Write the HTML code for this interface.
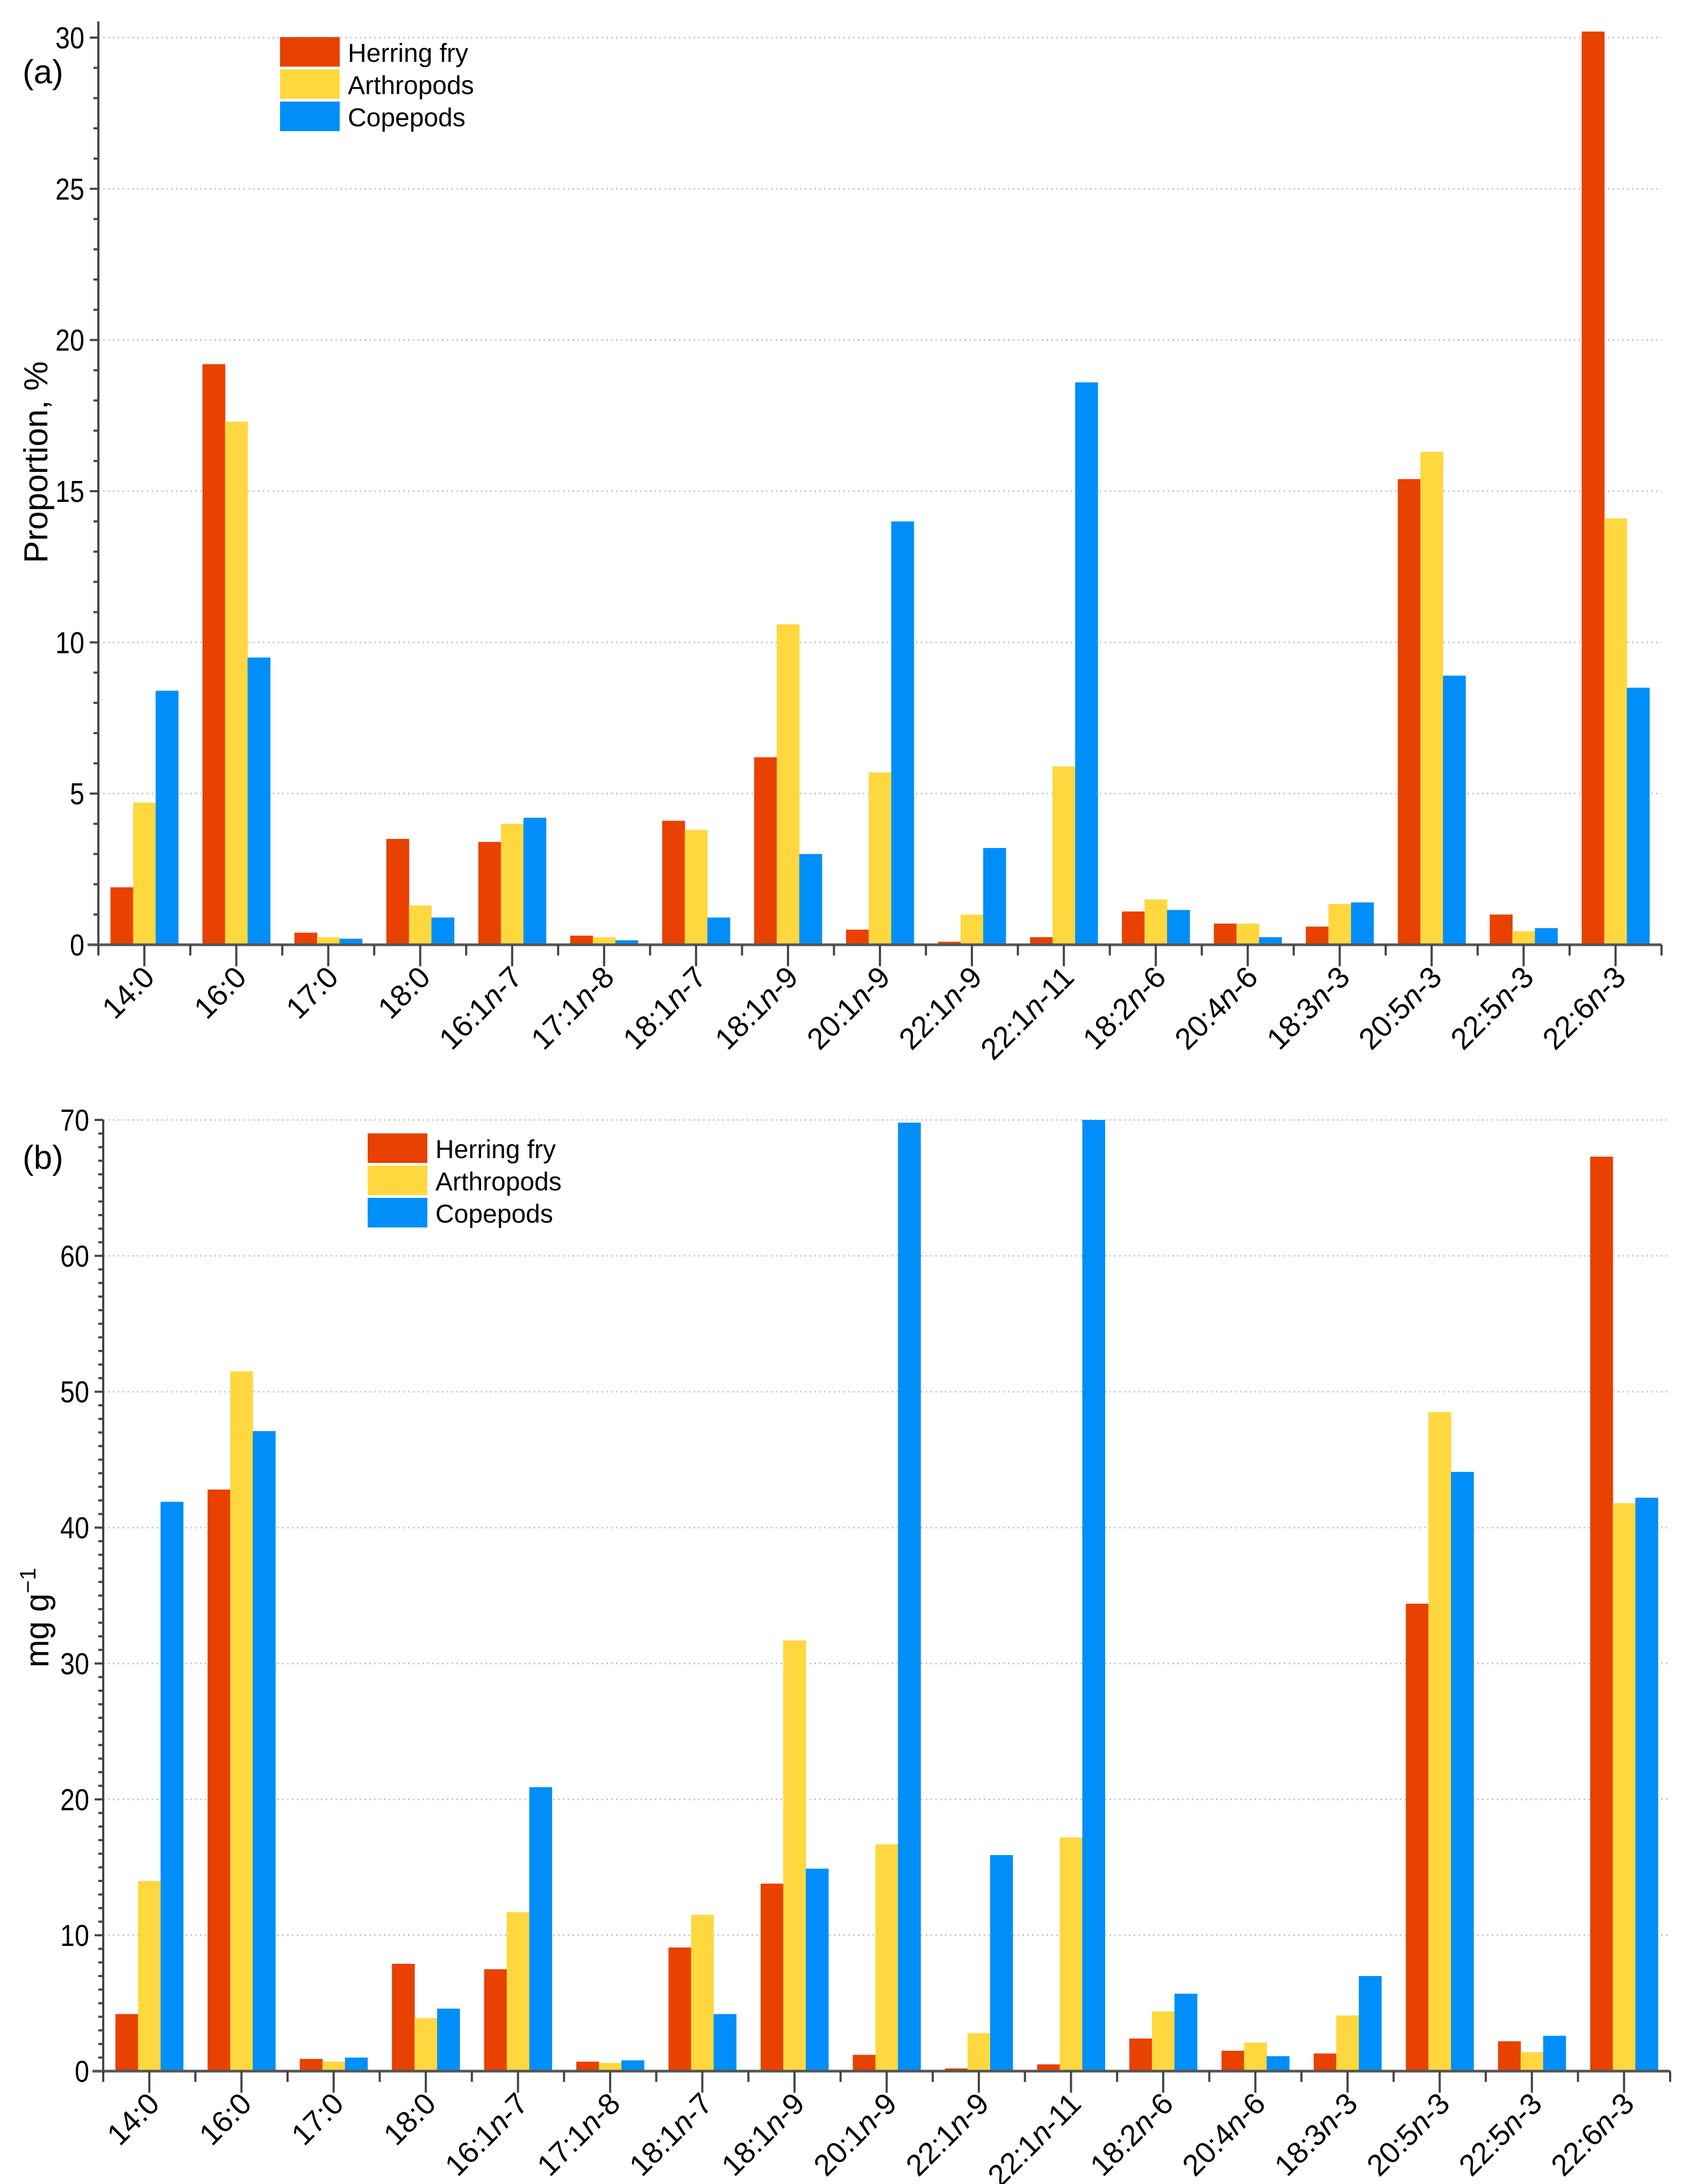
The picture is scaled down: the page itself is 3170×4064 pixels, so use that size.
<!DOCTYPE html>
<html><head><meta charset="utf-8"><style>
html,body{margin:0;padding:0;background:#fff;}
svg{display:block;font-family:"Liberation Sans",Arial,sans-serif;}
</style></head><body>
<svg id="fig" width="3170" height="4064" viewBox="0 0 3170 4064" xmlns="http://www.w3.org/2000/svg">
<rect width="3170" height="4064" fill="#fff"/>
<g id="pa"></g>
<g id="pb"></g>
</svg>
<script>
const categories = ["14:0","16:0","17:0","18:0","16:1n-7","17:1n-8","18:1n-7","18:1n-9","20:1n-9","22:1n-9","22:1n-11","18:2n-6","20:4n-6","18:3n-3","20:5n-3","22:5n-3","22:6n-3"];
const seriesNames = ["Herring fry","Arthropods","Copepods"];
const aHerring = [1.9,19.2,0.4,3.5,3.4,0.3,4.1,6.2,0.5,0.1,0.25,1.1,0.7,0.6,15.4,1.0,30.2];
const aArthro  = [4.7,17.3,0.25,1.3,4.0,0.25,3.8,10.6,5.7,1.0,5.9,1.5,0.7,1.35,16.3,0.45,14.1];
const aCope    = [8.4,9.5,0.2,0.9,4.2,0.15,0.9,3.0,14.0,3.2,18.6,1.15,0.25,1.4,8.9,0.55,8.5];
const bHerring = [4.2,42.8,0.9,7.9,7.5,0.7,9.1,13.8,1.2,0.2,0.5,2.4,1.5,1.3,34.4,2.2,67.3];
const bArthro  = [14.0,51.5,0.7,3.9,11.7,0.6,11.5,31.7,16.7,2.8,17.2,4.4,2.1,4.1,48.5,1.4,41.8];
const bCope    = [41.9,47.1,1.0,4.6,20.9,0.8,4.2,14.9,69.8,15.9,70.0,5.7,1.1,7.0,44.1,2.6,42.2];
const aTicks = [0,5,10,15,20,25,30];
const bTicks = [0,10,20,30,40,50,60,70];
const colors = ["#E84100","#FFD83F","#008FF8"];
const NS = "http://www.w3.org/2000/svg";
function mk(parent, tag, attrs, text){
  const e = document.createElementNS(NS, tag);
  for (const k in attrs) e.setAttribute(k, attrs[k]);
  if (text !== undefined) e.textContent = text;
  parent.appendChild(e); return e;
}
function panel(g, cfg){
  const {x0, x1, y0, ymax, yTop, yAxisTop, ticks, minorStep, series, letter, letterX, letterY, legX, legY, legH, ytitle, ytX, ytY} = cfg;
  const n = categories.length, cw = (x1 - x0) / n;
  const ys = v => y0 - (v / ymax) * (y0 - yTop);
  const xc = i => x0 + cw * (i + 0.5);
  ticks.forEach(t => { if (t === 0) return;
    const l = mk(g, "line", {x1:x0, x2:x1, y1:ys(t), y2:ys(t), stroke:"#c8c8c8", "stroke-width":3, "stroke-dasharray":"3 6"});
    
    
  });
  const bw = 42;
  series.forEach((arr, s) => {
    arr.forEach((v, i) => {
      const x = xc(i) - 1.5 * bw + s * bw;
      const r = mk(g, "rect", {x:x, y:ys(v), width:bw + 0.5, height:y0 - ys(v), fill:colors[s]});
      
      
    });
  });
  const ya = mk(g, "line", {x1:x0, x2:x0, y1:yAxisTop, y2:y0 + 20, stroke:"#444", "stroke-width":4});
  
  
  for (let v = 0; v <= ymax + 1e-9; v += minorStep) {
    const major = ticks.includes(Math.round(v));
    mk(g, "line", {x1:x0 - (major ? 16 : 9), x2:x0, y1:ys(v), y2:ys(v), stroke:"#444", "stroke-width":4});
  }
  ticks.forEach(t => {
    const tl = mk(g, "text", {x:x0 - 26, y:ys(t) + 20, "font-size":57, "text-anchor":"end", fill:"#000", textLength:(String(t).length*27), lengthAdjust:"spacingAndGlyphs"}, String(t));
    
    
  });
  const xa = mk(g, "line", {x1:x0 - 20, x2:x1, y1:y0, y2:y0, stroke:"#555", "stroke-width":5});
  
  
  for (let i = 0; i <= n; i++) mk(g, "line", {x1:x0 + cw * i, x2:x0 + cw * i, y1:y0, y2:y0 + 20, stroke:"#444", "stroke-width":4});
  categories.forEach((c, i) => {
    mk(g, "line", {x1:xc(i), x2:xc(i), y1:y0, y2:y0 + 40, stroke:"#444", "stroke-width":4});
    const m = c.match(/^(\d+:\d+)(n)?(-\d+)?$/);
    const t = mk(g, "text", {x:xc(i) + 22, y:y0 + 64, "font-size":56, "text-anchor":"end", transform:"rotate(-45 " + (xc(i) + 22) + " " + (y0 + 64) + ")"});
    
    
    mk(t, "tspan", {}, m[1]);
    if (m[2]) { mk(t, "tspan", {"font-style":"italic"}, "n"); mk(t, "tspan", {}, m[3]); }
  });
  const lt = mk(g, "text", {x:letterX, y:letterY, "font-size":62}, letter);
  
  
  const yt = mk(g, "text", {x:ytX, y:ytY, "font-size":62, "text-anchor":"middle", transform:"rotate(-90 " + ytX + " " + ytY + ")"});
  
  
  if (ytitle === "mg") { mk(yt, "tspan", {}, "mg g"); mk(yt, "tspan", {dy:-24, "font-size":42}, "−1"); }
  else yt.textContent = ytitle;
  seriesNames.forEach((nm, s) => {
    const y = legY + s * legH;
    const sw = mk(g, "rect", {x:legX, y:y, width:111, height:legH - 5, fill:colors[s]});
    
    
    const tx = mk(g, "text", {x:legX + 126, y:y + legH / 2 + 16, "font-size":48}, nm);
    
    
  });
}
panel(document.getElementById("pa"), {x0:183, x1:3091, y0:1758, ymax:30, yTop:70, yAxisTop:40, ticks:aTicks, minorStep:1,
  series:[aHerring,aArthro,aCope], letter:"(a)", letterX:42, letterY:155, legX:521, legY:69, legH:60,
  ytitle:"Proportion, %", ytX:88, ytY:860});
panel(document.getElementById("pb"), {x0:192, x1:3107, y0:3854, ymax:70, yTop:2084, yAxisTop:2084, ticks:bTicks, minorStep:1,
  series:[bHerring,bArthro,bCope], letter:"(b)", letterX:42, letterY:2175, legX:684, legY:2109, legH:60,
  ytitle:"mg", ytX:90, ytY:3010});
</script>
</body></html>
